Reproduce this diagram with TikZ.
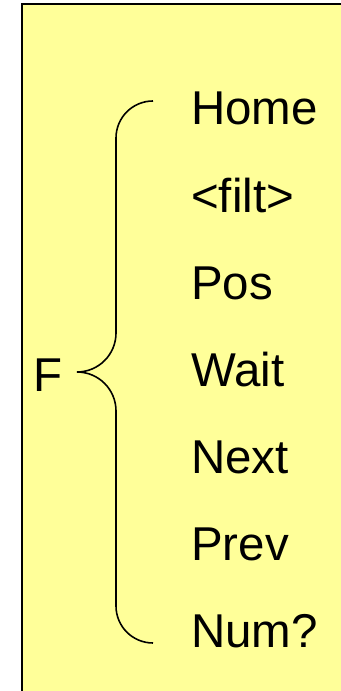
\documentclass[tikz,border=0pt]{standalone}
\usepackage{fontspec}
\usepackage{xcolor}
\setmainfont{Liberation Sans}
\usetikzlibrary{positioning}

\definecolor{boxyellow}{RGB}{255,255,153}
\newcommand{\itemfont}{\fontsize{35.6}{42}\selectfont}

\begin{document}
\begin{tikzpicture}[x=0.75pt, y=0.75pt, node distance=29.875pt,
    item/.style={font=\itemfont, inner sep=0pt, text height=27pt, text depth=8pt,
                 text width=120pt, align=left}]
    \useasboundingbox (0,0) rectangle (341,691);
    \clip (0,0) rectangle (341,691);

    % background panel
    \draw[line width=1.5pt, fill=boxyellow] (22,687) rectangle (360,-20);

    % brace
    \coordinate (tip) at (77,319);
    \draw[line width=1.2pt] (153,590) arc[start angle=90, end angle=180, radius=37]
        -- (116,358) arc[start angle=0, end angle=-90, radius=39]
        arc[start angle=90, end angle=0, radius=39]
        -- (116,85) arc[start angle=180, end angle=270, radius=37];

    \node[font=\itemfont, inner sep=0pt, anchor=base west] (f) at (33,299) {F};

    \node[item, anchor=base west] (home) at (191,566) {Home};
    \node[item, below=of home] (filt) {<filt>};
    \node[item, below=of filt] (pos) {Pos};
    \node[item, below=of pos] (wait) {Wait};
    \node[item, below=of wait] (next) {Next};
    \node[item, below=of next] (prev) {Prev};
    \node[item, below=of prev] (num) {Num?};
\end{tikzpicture}
\end{document}
